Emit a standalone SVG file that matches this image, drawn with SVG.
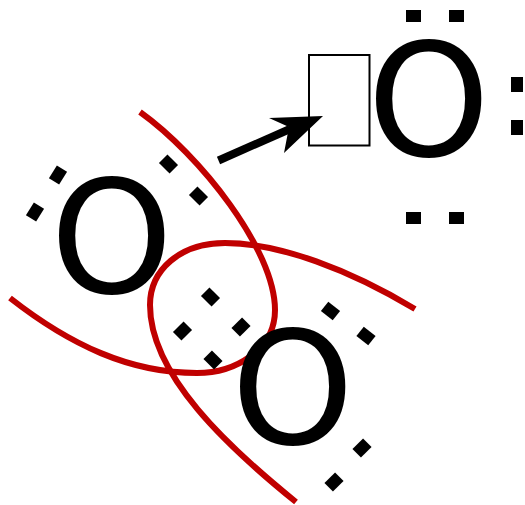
<svg xmlns="http://www.w3.org/2000/svg" width="525" height="505" viewBox="0 0 525 505">
<style>
.o{font-family:"DejaVu Sans",sans-serif;font-size:156px;fill:#000}
.d{fill:#000}
.r{fill:none;stroke:#c00000;stroke-width:6}
</style>
<defs><rect id="dot" class="d" x="-7.500" y="-6" width="15" height="12"/></defs>
<rect width="525" height="505" fill="#fff"/>
<g id="connectors">
<path class="r" d="M140,112 C200,155 275,250 275,310 C275,350 235,373 197,373 C130,373 70,345 10,298"/>
<path class="r" d="M415,309 C350,270 280,243 225,243 C180,243 150,270 150,305 C150,375 228,447 296,502"/>
<path d="M218.500,160.500 L290,129" fill="none" stroke="#000" stroke-width="8"/>
<path d="M323,116 L269,118 L289,127 L284,153 Z" fill="#000"/>
</g>
<g id="node-top">
<rect x="309" y="55" width="60.500" height="90.500" fill="none" stroke="#000" stroke-width="2"/>
<text class="o" x="367.300" y="156">O</text>
<use href="#dot" x="413.500" y="16"/><use href="#dot" x="456.500" y="16"/>
<use href="#dot" x="413.500" y="218"/><use href="#dot" x="456.500" y="218"/>
<use href="#dot" transform="translate(517,84.500) rotate(90)"/><use href="#dot" transform="translate(517,127.500) rotate(90)"/>
</g>
<g id="node-left">
<text class="o" x="50.300" y="293">O</text>
<use href="#dot" transform="translate(58,175) rotate(-58)"/>
<use href="#dot" transform="translate(35,212) rotate(-58)"/>
<use href="#dot" transform="translate(168.500,164) rotate(45)"/>
<use href="#dot" transform="translate(198.500,196) rotate(45)"/>
</g>
<g id="node-shared">
<use href="#dot" transform="translate(210.500,297) rotate(45)"/>
<use href="#dot" transform="translate(182.500,331) rotate(-45)"/>
<use href="#dot" transform="translate(241,327) rotate(-45)"/>
<use href="#dot" transform="translate(213,360) rotate(45)"/>
</g>
<g id="node-bottom">
<text class="o" x="231.300" y="444">O</text>
<use href="#dot" transform="translate(330.500,311) rotate(38)"/>
<use href="#dot" transform="translate(366,336) rotate(38)"/>
<use href="#dot" transform="translate(362,448) rotate(-45)"/>
<use href="#dot" transform="translate(334,482) rotate(-45)"/>
</g>
</svg>
